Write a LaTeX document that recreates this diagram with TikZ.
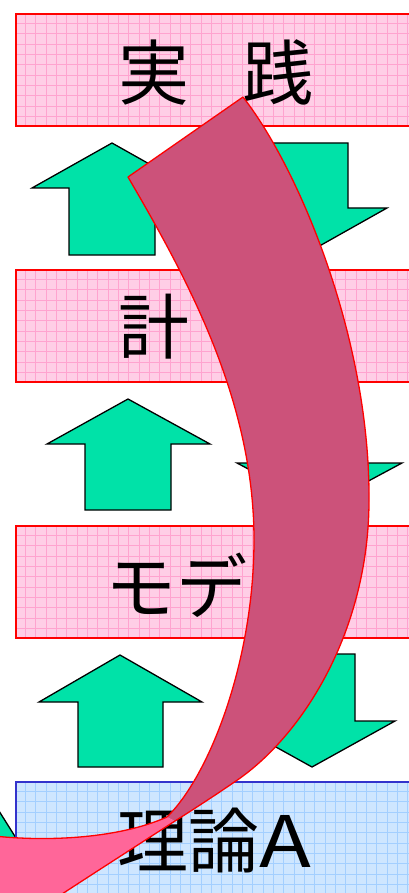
\documentclass[tikz,border=0pt]{standalone}
\usepackage{fontspec}
\newfontfamily\jpfont{Noto Sans CJK JP}
\definecolor{pinkfill}{RGB}{255,206,230}
\definecolor{pinkline}{RGB}{255,163,207}
\definecolor{bluefill}{RGB}{206,230,255}
\definecolor{blueline}{RGB}{163,207,255}
\definecolor{blueborder}{RGB}{51,51,204}
\definecolor{arrowgreen}{RGB}{0,226,168}
\definecolor{banddark}{RGB}{204,82,122}
\definecolor{bandlight}{RGB}{255,102,153}
\tikzset{
  greenarrow/.style={fill=arrowgreen, draw=black, line width=1.3pt, line join=miter},
  boxtext/.style={anchor=west, inner sep=0pt, font=\jpfont\fontsize{71}{71}\selectfont},
  bandedge/.style={draw=red, line width=1.3pt, line join=round},
}
\newcommand\mygridbox[7]{%
  \begin{scope}
    \clip (#1,#2) rectangle (#3,#4);
    \fill[#5] (#1,#2) rectangle (#3,#4);
    \foreach \k in {1,...,40} {
      \draw[#6, line width=0.7pt] ({#1+10.33*\k-1},#2) -- ({#1+10.33*\k-1},#4);
    }
    \foreach \k in {1,...,11} {
      \draw[#6, line width=0.7pt] (#1,{#2+10.33*\k-1}) -- (#3,{#2+10.33*\k-1});
    }
  \end{scope}
  \draw[#7, line width=1.6pt] (#1,#2) rectangle (#3,#4);
}
\begin{document}
\begin{tikzpicture}[x=1pt,y=-1pt]
\useasboundingbox (0,0) rectangle (409,893);
\clip (0,0) rectangle (409,893);
\fill[white] (0,0) rectangle (409,893);

% small green shape at bottom left (behind the blue box)
\draw[greenarrow] (-6,803) -- (16,838) -- (-6,838) -- cycle;

% boxes
\mygridbox{16}{14}{417}{126}{pinkfill}{pinkline}{red}
\mygridbox{16}{270}{417}{382}{pinkfill}{pinkline}{red}
\mygridbox{16}{526}{417}{638}{pinkfill}{pinkline}{red}
\mygridbox{16}{782}{417}{894}{bluefill}{blueline}{blueborder}

% texts
\node[boxtext] (t1) at (118,72) {実\kern-18pt　践};
\node[boxtext] (t2) at (118,327) {計};
\node[boxtext] (t3) at (105,585) {モデ};
\node[boxtext] (t4) at (117,841) {理論\scalebox{1.2}[1]{A}};

% green arrows
\draw[greenarrow] (112,143) -- (192,188) -- (155,188) -- (155,255) -- (69,255) -- (69,188) -- (32,188) -- cycle;
\draw[greenarrow] (262,143) -- (348,143) -- (348,208) -- (387,208) -- (307,253) -- (227,208) -- (262,208) -- cycle;
\draw[greenarrow] (128,399) -- (210,444) -- (171,444) -- (171,510) -- (85,510) -- (85,444) -- (47,444) -- cycle;
\draw[greenarrow] (276,399) -- (358,399) -- (358,463) -- (402,463) -- (320,507) -- (237,463) -- (276,463) -- cycle;
\draw[greenarrow] (120,655) -- (202,702) -- (163,702) -- (163,767) -- (78,767) -- (78,702) -- (39,702) -- cycle;
\draw[greenarrow] (269,654) -- (355,654) -- (355,721) -- (395,721) -- (312,767) -- (229,721) -- (269,721) -- cycle;

% curved band: dark front side
\fill[banddark] (128,177) -- (243,97)
  .. controls (300,170) and (370,340) .. (369,500)
  .. controls (369,630) and (303,737) .. (233,783)
  .. controls (214,796) and (194,809) .. (175,821)
  -- (167,817)
  .. controls (210,775) and (254,660) .. (254,540)
  .. controls (254,400) and (187,278) .. (128,177) -- cycle;
% lighter back side at the bottom left
\fill[bandlight] (167,817)
  .. controls (120,838) and (50,842) .. (-6,836)
  -- (-6,915) -- (30,915)
  .. controls (80,882) and (130,850) .. (175,821) -- cycle;
% red outlines
\draw[bandedge] (243,97)
  .. controls (300,170) and (370,340) .. (369,500)
  .. controls (369,630) and (303,737) .. (233,783)
  .. controls (214,796) and (194,809) .. (175,821)
  .. controls (130,850) and (80,882) .. (30,915);
\draw[bandedge] (243,97) -- (128,177)
  .. controls (187,278) and (254,400) .. (254,540)
  .. controls (254,660) and (210,775) .. (167,817);
\draw[bandedge] (167,817) .. controls (120,838) and (50,842) .. (-6,836);
\end{tikzpicture}
\end{document}
